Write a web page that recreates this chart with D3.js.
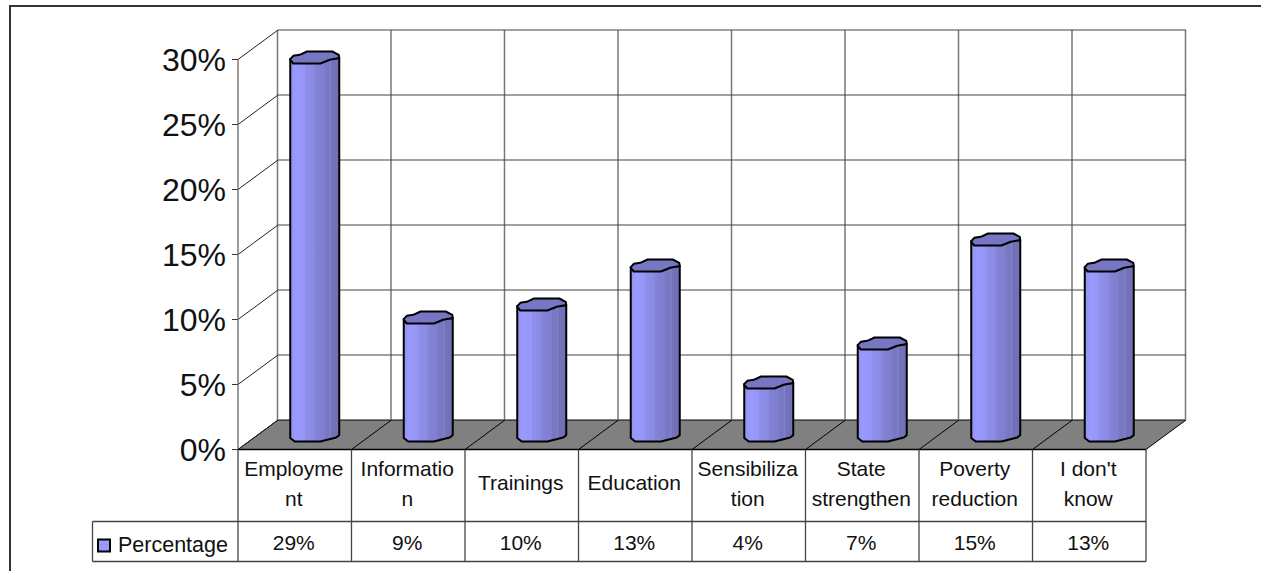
<!DOCTYPE html>
<html><head><meta charset="utf-8">
<script src="https://cdn.jsdelivr.net/npm/d3@7/dist/d3.min.js"></script>
<style>html,body{margin:0;padding:0;background:#fff;overflow:hidden}svg{display:block}text{font-family:"Liberation Sans",Arial,sans-serif;fill:#111}</style>
</head><body>
<svg id="c" width="1261" height="571"></svg>
<script>
const categories=["Employment","Information","Trainings","Education","Sensibilization","State strengthen","Poverty reduction","I don't know"];
const categoryLines=[["Employme","nt"],["Informatio","n"],["Trainings"],["Education"],["Sensibiliza","tion"],["State","strengthen"],["Poverty","reduction"],["I don't","know"]];
const seriesName="Percentage";
const values=[29,9,10,13,4,7,15,13];
const valueLabels=["29%","9%","10%","13%","4%","7%","15%","13%"];
const yTicks=[0,5,10,15,20,25,30];

const svg=d3.select("#c");
const x=d3.scaleBand().domain(categories).range([238,1146]);
const y=d3.scaleLinear().domain([0,30]).range([449.5,59.5]);
const dx=40,dy=-29.5;   // wall depth
const mx=dx/2,my=-15;

// outer frame: left and top only are visible in the crop
svg.append("path").attr("d","M10,571V6H1261").attr("fill","none").attr("stroke","#333").attr("stroke-width",2);

const defs=svg.append("defs");
const g=defs.append("linearGradient").attr("id","cyl");
[[0,"#9292ee"],[.1,"#9999ff"],[.3,"#9696f8"],[.3,"#9090ec"],[.5,"#8a8ae2"],[.5,"#8484d8"],[.7,"#7e7ece"],[.7,"#7878c6"],[.8,"#7777c2"],[.82,"#8585cc"],[.84,"#7373bc"],[1,"#6f6fb5"]]
 .forEach(s=>g.append("stop").attr("offset",s[0]).attr("stop-color",s[1]));

const grid=svg.append("g");
const catEdges=[...categories.map(c=>x(c)),1146];
// floor
grid.append("path").attr("d",`M238,${y(0)}L${238+dx},${y(0)+dy}L${1146+dx},${y(0)+dy}L1146,${y(0)}Z`).attr("fill","#808080").attr("stroke","#000").attr("stroke-width",1);
// back wall verticals
catEdges.forEach(e=>{
  grid.append("line").attr("x1",e+dx-.5).attr("x2",e+dx-.5).attr("y1",y(30)+dy).attr("y2",y(0)+dy).attr("stroke","#777").attr("stroke-width",1.5);
  if(e>238&&e<1146) grid.append("line").attr("x1",e).attr("x2",e+dx).attr("y1",y(0)).attr("y2",y(0)+dy).attr("stroke","#000");
});
// back wall horizontals and side wall
yTicks.forEach(t=>{
  if(t>0) grid.append("line").attr("x1",238+dx).attr("x2",1146+dx).attr("y1",y(t)+dy).attr("y2",y(t)+dy).attr("stroke","#444").attr("stroke-width",1.2);
  grid.append("line").attr("x1",238).attr("x2",238+dx).attr("y1",y(t)).attr("y2",y(t)+dy).attr("stroke","#222");
  grid.append("line").attr("x1",232).attr("x2",238).attr("y1",y(t)).attr("y2",y(t)).attr("stroke","#333");
  grid.append("text").attr("x",226).attr("y",y(t)+11.5).attr("text-anchor","end").attr("font-size",32).text(t+"%");
});
grid.append("line").attr("x1",238).attr("x2",238).attr("y1",y(30)).attr("y2",y(0)).attr("stroke","#666").attr("stroke-width",1.3);
grid.append("line").attr("x1",238).attr("x2",1146).attr("y1",y(0)).attr("y2",y(0)).attr("stroke","#000").attr("stroke-width",1.6);

// cylinders
const topShape=[[-24.5,1.6],[-21.5,-1.7],[-15,-2.7],[-7.7,-6],[17.5,-6],[24,-2.7],[24.5,.6],[15,2.3],[5.7,6],[-21.5,6],[-24.5,2.3]];
const bottomShape=[[24.5,0],[24.5,.6],[21.5,3],[5.7,7],[-20,7],[-24.5,3.5],[-24.5,0]];
const line=d3.line();
const bars=svg.append("g").selectAll("g").data(categories).join("g");
bars.each(function(c,i){
  const sel=d3.select(this);
  const cx=x(c)+x.bandwidth()/2+mx, y0=y(0)+my, y1=y(values[i])+my;
  const body=[[cx+topShape[0][0],y1+topShape[0][1]],[cx+24.5,y1+.6],...bottomShape.map(p=>[cx+p[0],y0+p[1]])];
  sel.append("path").attr("d",line(body)+"Z").attr("fill","url(#cyl)").attr("stroke","#000").attr("stroke-width",2).attr("stroke-linejoin","round");
  sel.append("path").attr("d",line(topShape.map(p=>[cx+p[0],y1+p[1]]))+"Z").attr("fill","#7676c2").attr("stroke","#000").attr("stroke-width",2).attr("stroke-linejoin","round");
});

// data table
const rowA=449.5,rowB=521.5,rowC=561.5,tableLeft=92.5;
const tbl=svg.append("g");
const tcol="#444";
[[238,rowA,238,rowC],[1146,rowA,1146,rowC],[tableLeft,rowB,tableLeft,rowC],[tableLeft,rowB,1146,rowB],[tableLeft,rowC,1146,rowC]].forEach(l=>
  tbl.append("line").attr("x1",l[0]).attr("y1",l[1]).attr("x2",l[2]).attr("y2",l[3]).attr("stroke",tcol).attr("stroke-width",1.3));
catEdges.slice(1,-1).forEach(e=>tbl.append("line").attr("x1",e).attr("x2",e).attr("y1",rowA).attr("y2",rowC).attr("stroke",tcol).attr("stroke-width",1.3));
categories.forEach((c,i)=>{
  const cx=x(c)+x.bandwidth()/2;
  const ls=categoryLines[i];
  const ys=ls.length===2?[476,506]:[490];
  ls.forEach((s,j)=>tbl.append("text").attr("x",cx-1).attr("y",ys[j]).attr("text-anchor","middle").attr("font-size",21).text(s));
  tbl.append("text").attr("x",cx-1).attr("y",550).attr("text-anchor","middle").attr("font-size",21).text(valueLabels[i]);
});
tbl.append("rect").attr("x",98).attr("y",539.5).attr("width",12).attr("height",12).attr("fill","#9999ff").attr("stroke","#000").attr("stroke-width",2);
tbl.append("text").attr("x",118).attr("y",551.5).attr("font-size",21.5).text(seriesName);
</script></body></html>
